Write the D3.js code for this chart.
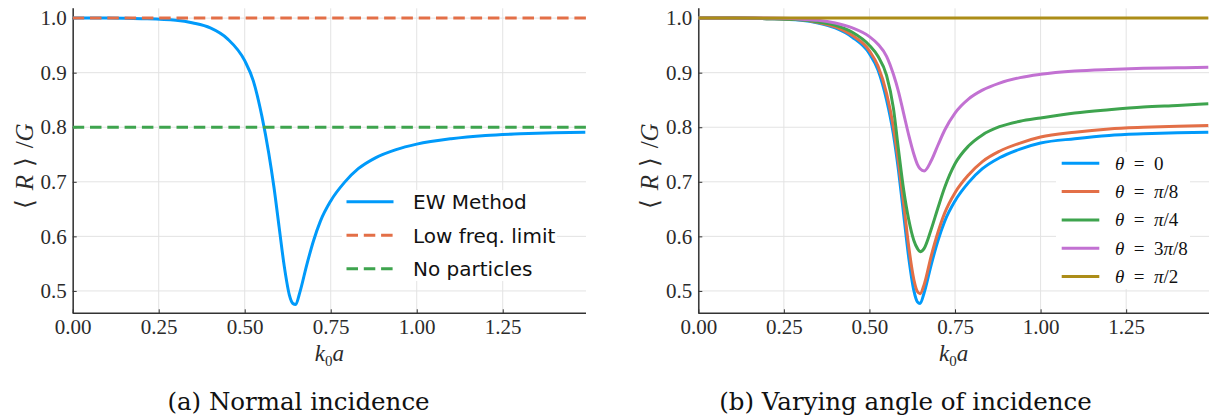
<!DOCTYPE html>
<html>
<head>
<meta charset="utf-8">
<script src="https://cdn.jsdelivr.net/npm/d3@7"></script>
<style>
  body { margin: 0; background: #fff; }
  svg { display: block; }
</style>
</head>
<body>
<div id="chart"></div>
<script>
// sample points along k0 a (shared by every curve)
var kx = [0, 0.1, 0.2, 0.3, 0.35, 0.4, 0.45, 0.5, 0.525, 0.55, 0.57, 0.585, 0.6, 0.615, 0.63, 0.64,
          0.648, 0.66, 0.68, 0.7, 0.72, 0.75, 0.79, 0.83, 0.88, 0.94, 1.0, 1.1, 1.2, 1.3, 1.4, 1.49];

// (a) normal incidence
var ewMethod = [1.0, 1.0, 0.999, 0.996, 0.991, 0.982, 0.962, 0.922, 0.885, 0.82, 0.752, 0.69, 0.617, 0.545, 0.492, 0.477,
                0.475, 0.497, 0.547, 0.592, 0.628, 0.665, 0.699, 0.724, 0.744, 0.759, 0.769, 0.779, 0.785, 0.788, 0.790, 0.791];
var lowFreqLimit = [1.0, 1.0];
var noParticles = [0.8, 0.8];
var legendA = ["EW Method", "Low freq. limit", "No particles"];

// (b) varying angle of incidence
var theta0 = [1.0, 1.0, 0.999, 0.996, 0.991, 0.982, 0.965, 0.935, 0.905, 0.85, 0.787, 0.72, 0.64, 0.56, 0.50, 0.48,
              0.477, 0.497, 0.547, 0.592, 0.628, 0.665, 0.699, 0.724, 0.744, 0.760, 0.771, 0.779, 0.785, 0.788, 0.790, 0.791];
var thetaPi8 = [1.0, 1.0, 0.999, 0.997, 0.992, 0.984, 0.968, 0.94, 0.912, 0.862, 0.80, 0.735, 0.66, 0.58, 0.52, 0.499,
                0.495, 0.512, 0.563, 0.607, 0.643, 0.68, 0.713, 0.737, 0.756, 0.771, 0.782, 0.791, 0.797, 0.800, 0.802, 0.803];
var thetaPi4 = [1.0, 1.0, 0.999, 0.997, 0.993, 0.987, 0.974, 0.95, 0.93, 0.895, 0.835, 0.758, 0.685, 0.63, 0.592, 0.578,
                0.572, 0.578, 0.612, 0.652, 0.69, 0.733, 0.766, 0.786, 0.801, 0.811, 0.817, 0.826, 0.832, 0.837, 0.840, 0.843];
var theta3Pi8 = [1.0, 1.0, 1.0, 0.998, 0.996, 0.991, 0.982, 0.966, 0.952, 0.93, 0.897, 0.865, 0.825, 0.785, 0.75, 0.732,
                 0.724, 0.72, 0.738, 0.767, 0.795, 0.826, 0.852, 0.868, 0.881, 0.891, 0.897, 0.903, 0.906, 0.908, 0.909, 0.910];
var thetaPi2 = [1.0, 1.0, 1.0, 1.0, 1.0, 1.0, 1.0, 1.0, 1.0, 1.0, 1.0, 1.0, 1.0, 1.0, 1.0, 1.0,
                1.0, 1.0, 1.0, 1.0, 1.0, 1.0, 1.0, 1.0, 1.0, 1.0, 1.0, 1.0, 1.0, 1.0, 1.0, 1.0];
var thetaNum = ["0", "", "", "3", ""];
var thetaDen = ["", "8", "4", "8", "2"];

var xTicks = [0, 0.25, 0.5, 0.75, 1.0, 1.25];
var yTicks = [0.5, 0.6, 0.7, 0.8, 0.9, 1.0];
var xDomain = [0, 1.492];
var yDomain = [0.459, 1.018];

var colors = ["#009AFA", "#E36F47", "#3EA44E", "#C271D2", "#AC8D18"];
var serif = "Liberation Serif";

var svg = d3.select("#chart").append("svg")
    .attr("width", 1211).attr("height", 417);

function makePanel(id, left, right) {
    var x = d3.scaleLinear().domain(xDomain).range([left, right]);
    var y = d3.scaleLinear().domain(yDomain).range([313.3, 8.3]);
    var g = svg.append("g").attr("id", id);

    svg.append("clipPath").attr("id", "clip-" + id)
        .append("rect")
        .attr("x", left).attr("y", 8.3)
        .attr("width", right - left).attr("height", 305);

    // grid
    g.append("g").selectAll("line").data(xTicks).enter().append("line")
        .attr("x1", function(d) { return x(d) }).attr("x2", function(d) { return x(d) })
        .attr("y1", 8.3).attr("y2", 313.3)
        .attr("stroke", "#e3e3e3").attr("stroke-width", 1);
    g.append("g").selectAll("line").data(yTicks).enter().append("line")
        .attr("y1", function(d) { return y(d) }).attr("y2", function(d) { return y(d) })
        .attr("x1", left).attr("x2", right)
        .attr("stroke", "#e3e3e3").attr("stroke-width", 1);

    // axes with inward ticks
    var xAxis = g.append("g").attr("transform", "translate(0,313.3)")
        .call(d3.axisBottom(x).tickValues(xTicks).tickFormat(d3.format(".2f")).tickSizeInner(-4).tickSizeOuter(0).tickPadding(6));
    var yAxis = g.append("g").attr("transform", "translate(" + left + ",0)")
        .call(d3.axisLeft(y).tickValues(yTicks).tickFormat(d3.format(".1f")).tickSizeInner(-4).tickSizeOuter(0).tickPadding(6));
    [xAxis, yAxis].forEach(function(a) {
        a.attr("font-family", serif).attr("font-size", 21);
        a.select(".domain").attr("stroke", "#333").attr("stroke-width", 1.5);
        a.selectAll(".tick line").attr("stroke", "#333").attr("stroke-width", 1);
        a.selectAll(".tick text").attr("fill", "#2b2b2b");
    });
    yAxis.select(".domain").attr("d", "M0.5,8.3V313.3");
    xAxis.select(".domain").attr("d", "M" + left + ",0H" + right);

    // axis labels
    var cx = (left + right) / 2;
    var xl = g.append("text").attr("x", cx).attr("y", 361)
        .attr("text-anchor", "middle")
        .attr("font-family", serif).attr("font-size", 23).attr("fill", "#2b2b2b");
    xl.append("tspan").attr("font-style", "italic").text("k");
    xl.append("tspan").attr("dy", 5).attr("font-size", 15).text("0");
    xl.append("tspan").attr("dy", -5).attr("font-style", "italic").text("a");

    var yl = g.append("text")
        .attr("transform", "translate(" + (left - 40) + ",166) rotate(-90)")
        .attr("text-anchor", "middle")
        .attr("font-family", serif).attr("font-size", 25).attr("fill", "#2b2b2b");
    yl.append("tspan").text("\u27E8\u2004");
    yl.append("tspan").attr("font-style", "italic").text("R");
    yl.append("tspan").text("\u2004\u27E9\u2004/");
    yl.append("tspan").attr("font-style", "italic").text("G");

    var plot = g.append("g").attr("clip-path", "url(#clip-" + id + ")");
    return { x: x, y: y, g: g, plot: plot };
}

function addCurve(p, xs, ys, color, dash) {
    var line = d3.line()
        .x(function(d) { return p.x(d[0]) })
        .y(function(d) { return p.y(d[1]) })
        .curve(d3.curveMonotoneX);
    p.plot.append("path")
        .datum(d3.zip(xs, ys))
        .attr("d", line)
        .attr("fill", "none")
        .attr("stroke", color)
        .attr("stroke-width", 3)
        .attr("stroke-dasharray", dash || null);
}

// ---------------- panel (a)
var pa = makePanel("a", 72.7, 586);
addCurve(pa, kx, ewMethod, colors[0]);
addCurve(pa, xDomain, lowFreqLimit, colors[1], "11.5,5.8");
addCurve(pa, xDomain, noParticles, colors[2], "11.5,5.8");

var legA = pa.g.append("g");
legA.append("rect")
    .attr("x", 342).attr("y", 190).attr("width", 215).attr("height", 91)
    .attr("fill", "#fff");
legendA.forEach(function(name, i) {
    var ly = 201.7 + i * 33.5;
    legA.append("line")
        .attr("x1", 346.5).attr("x2", 393.5).attr("y1", ly).attr("y2", ly)
        .attr("stroke", colors[i]).attr("stroke-width", 3)
        .attr("stroke-dasharray", i == 0 ? null : "11.5,5.8");
    legA.append("text")
        .attr("x", 413).attr("y", ly + 7.5)
        .attr("font-family", "DejaVu Sans").attr("font-size", 20)
        .attr("fill", "#111").text(name);
});

// ---------------- panel (b)
var pb = makePanel("b", 698.3, 1209);
var thetaSeries = [theta0, thetaPi8, thetaPi4, theta3Pi8, thetaPi2];
thetaSeries.forEach(function(s, i) {
    addCurve(pb, kx, s, colors[i]);
});

var legB = pb.g.append("g");
legB.append("rect")
    .attr("x", 1056).attr("y", 152).attr("width", 134).attr("height", 137)
    .attr("fill", "#fff");
thetaSeries.forEach(function(s, i) {
    var ly = 163.3 + i * 28.3;
    legB.append("line")
        .attr("x1", 1061.7).attr("x2", 1099.3).attr("y1", ly).attr("y2", ly)
        .attr("stroke", colors[i]).attr("stroke-width", 3);
    var t = legB.append("text")
        .attr("x", 1115).attr("y", ly + 6.5)
        .attr("font-family", serif).attr("font-size", 19)
        .attr("fill", "#111");
    t.append("tspan").attr("font-style", "italic").text("\u03B8");
    t.append("tspan").text("\u2002=\u2002" + thetaNum[i]);
    if (thetaDen[i] != "") {
        t.append("tspan").attr("font-style", "italic").text("\u03C0");
        t.append("tspan").text("/" + thetaDen[i]);
    }
});

// captions
svg.append("text").attr("x", 298.5).attr("y", 410)
    .attr("text-anchor", "middle")
    .attr("font-family", "DejaVu Serif").attr("font-size", 24.5)
    .attr("fill", "#111").text("(a) Normal incidence");
svg.append("text").attr("x", 905.5).attr("y", 410)
    .attr("text-anchor", "middle")
    .attr("font-family", "DejaVu Serif").attr("font-size", 24.5)
    .attr("fill", "#111").text("(b) Varying angle of incidence");
</script>
</body>
</html>
